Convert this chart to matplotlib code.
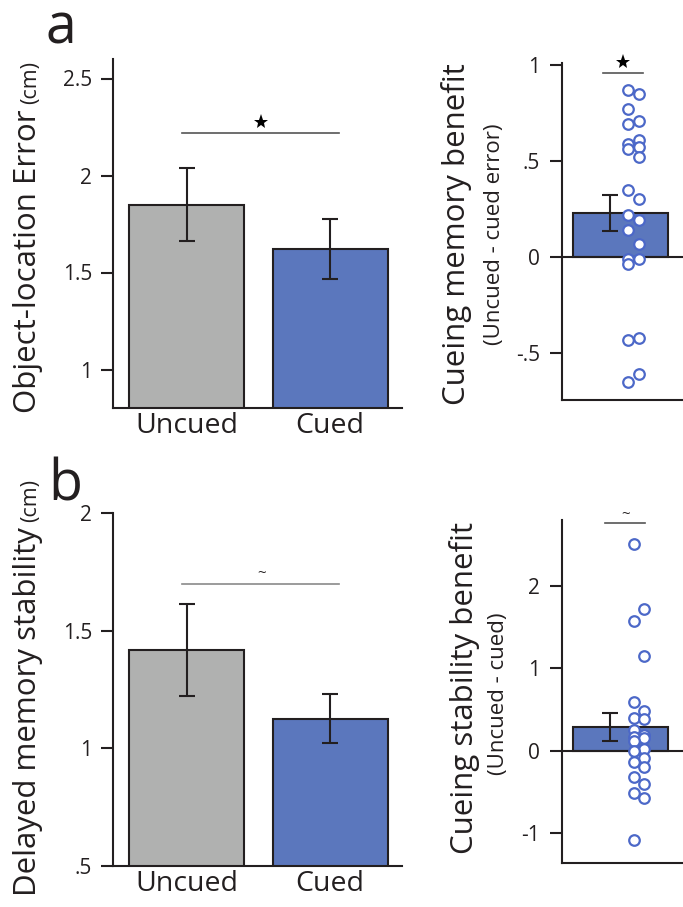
import matplotlib
matplotlib.use("Agg")
import matplotlib.pyplot as plt
import numpy as np

plt.rcParams['font.family'] = ['Open Sans', 'DejaVu Sans']

# ---------------- data ----------------
conditions = ["Uncued", "Cued"]
error_means = [1.85, 1.62]
error_sem = [0.19, 0.155]
stability_means = [1.42, 1.126]
stability_sem = [0.196, 0.105]

memory_benefit = [0.87, 0.85, 0.77, 0.71, 0.69, 0.61, 0.59, 0.575, 0.56, 0.52,
                  0.35, 0.30, 0.22, 0.19, 0.14, 0.067, -0.01, -0.01, -0.035,
                  -0.42, -0.435, -0.61, -0.65]
memory_benefit_mean = 0.23
memory_benefit_sem = 0.095

stability_benefit = [2.51, 1.72, 1.57, 1.15, 0.59, 0.49, 0.40, 0.39, 0.26, 0.19,
                     0.17, 0.16, 0.12, 0.02, 0.0, -0.08, -0.13, -0.19, -0.31,
                     -0.40, -0.51, -0.57, -1.08]
stability_benefit_mean = 0.29
stability_benefit_sem = 0.165

err_ticks = [1, 1.5, 2, 2.5]
err_ticklabels = ["1", "1.5", "2", "2.5"]
stab_ticks = [0.5, 1, 1.5, 2]
stab_ticklabels = [".5", "1", "1.5", "2"]
memb_ticks = [-0.5, 0, 0.5, 1]
memb_ticklabels = ["-.5", "0", ".5", "1"]
stabb_ticks = [-1, 0, 1, 2]
stabb_ticklabels = ["-1", "0", "1", "2"]

# ---------------- style ----------------
W, H = 683, 907
GREY = "#b0b1b0"
BLUE = "#5b77bd"
PT_BLUE = "#4c68c8"
INK = "#231f20"
LW = 1.5
MAIN_FS = 22.5
SUB_FS = 16
TICK_FS = 15

fig = plt.figure(figsize=(W / 100, H / 100), dpi=100)


def px_axes(l, t, r, b):
    return fig.add_axes([l / W, 1 - b / H, (r - l) / W, (b - t) / H])


def style(ax, pad):
    for s in ["top", "right"]:
        ax.spines[s].set_visible(False)
    for s in ["left", "bottom"]:
        ax.spines[s].set_linewidth(LW)
        ax.spines[s].set_color(INK)
    ax.tick_params(axis="y", length=9, width=LW, color=INK, labelsize=TICK_FS,
                   labelcolor=INK, pad=pad)
    ax.tick_params(axis="x", length=0, labelsize=20.5, labelcolor=INK, pad=3)


def bar_panel(ax, means, sems, ylim, ticks, ticklabels):
    x = np.arange(len(means))
    ax.bar(x, means, width=0.8, color=[GREY, BLUE], edgecolor=INK,
           linewidth=LW, zorder=2)
    ax.errorbar(x, means, yerr=sems, fmt="none", ecolor=INK, elinewidth=LW,
                capsize=5.5, capthick=LW, zorder=3)
    ax.set_xlim(-0.512, 1.50)
    ax.set_ylim(*ylim)
    ax.set_yticks(ticks)
    ax.set_yticklabels(ticklabels)
    ax.set_xticks(x)
    ax.set_xticklabels(conditions)
    style(ax, 6)


def benefit_panel(ax, vals, mean, sem, ylim, ticks, ticklabels, xc):
    ax.set_xlim(-0.49, 0.526)
    ax.set_ylim(*ylim)
    ax.bar([0], [mean], width=0.8, color=BLUE, edgecolor=INK, linewidth=LW,
           zorder=2)
    ax.errorbar([-0.09], [mean], yerr=[sem], fmt="none", ecolor=INK,
                elinewidth=LW, capsize=5.5, capthick=LW, zorder=3)
    ax.axhline(0, color=INK, lw=LW, zorder=2.5)
    order = np.argsort(vals)[::-1]
    xs = np.empty(len(vals))
    xs[order] = xc + np.where(np.arange(len(vals)) % 2 == 0, -0.045, 0.045)
    ax.plot(xs, vals, "o", ms=7.6, mfc="white", mec=PT_BLUE, mew=1.6,
            zorder=4, clip_on=False)
    ax.set_yticks(ticks)
    ax.set_yticklabels(ticklabels)
    ax.set_xticks([])
    style(ax, 7)


# panel a, left
ax1 = px_axes(113, 59.1, 402, 408.3)
bar_panel(ax1, error_means, error_sem, (0.8, 2.6), err_ticks, err_ticklabels)
ax1.plot([-0.03, 1.06], [2.22, 2.22], color="#555555", lw=1.2)
ax1.plot([0.52], [2.275], marker="*", ms=11, color="black", mew=0)

# panel b, left
ax2 = px_axes(113, 513.3, 402, 866)
bar_panel(ax2, stability_means, stability_sem, (0.5, 2.0), stab_ticks,
          stab_ticklabels)
ax2.plot([-0.03, 1.06], [1.70, 1.70], color="#8a8a8a", lw=1.2)
ax2.text(0.52, 1.71, "~", ha="center", va="bottom", fontsize=11, color=INK)

# panel a, right
ax3 = px_axes(562, 63, 683, 400)
benefit_panel(ax3, memory_benefit, memory_benefit_mean, memory_benefit_sem,
              (-0.745, 1.01), memb_ticks, memb_ticklabels, 0.111)
ax3.plot([-0.147, 0.19], [0.958, 0.958], color="#555555", lw=1.2, clip_on=False)
ax3.plot([0.02], [1.015], marker="*", ms=11, color="black", mew=0, clip_on=False)

# panel b, right
ax4 = px_axes(562, 520, 683, 863)
benefit_panel(ax4, stability_benefit, stability_benefit_mean,
              stability_benefit_sem, (-1.358, 2.8), stabb_ticks,
              stabb_ticklabels, 0.156)
ax4.plot([-0.13, 0.206], [2.76, 2.76], color="#555555", lw=1.2, clip_on=False)
ax4.text(0.04, 2.78, "~", ha="center", va="bottom", fontsize=11, color=INK,
         clip_on=False)

# panel letters
fig.text(45 / W, 1 - 43 / H, "a", fontsize=40, color=INK, va="baseline")
fig.text(48 / W, 1 - 500 / H, "b", fontsize=40, color=INK, va="baseline")


# y labels
def two_part_label(x_px, y_bottom_px, main, small, main_size, small_size):
    t1 = fig.text(x_px / W, 1 - y_bottom_px / H, main, rotation=90,
                  rotation_mode="anchor", ha="left", va="baseline",
                  fontsize=main_size, color=INK)
    fig.canvas.draw()
    bb = t1.get_window_extent()
    fig.text(x_px / W, (bb.y1 + 5) / H, small, rotation=90,
             rotation_mode="anchor", ha="left", va="baseline",
             fontsize=small_size, color=INK)


two_part_label(36, 413, "Object-location Error", "(cm)", MAIN_FS, 15.5)
two_part_label(36, 896, "Delayed memory stability", "(cm)", MAIN_FS, 15.5)

fig.text(465 / W, 1 - 234 / H, "Cueing memory benefit", rotation=90,
         rotation_mode="anchor", ha="center", va="baseline", fontsize=MAIN_FS,
         color=INK)
fig.text(500 / W, 1 - 234 / H, "(Uncued - cued error)", rotation=90,
         rotation_mode="anchor", ha="center", va="baseline", fontsize=SUB_FS,
         color=INK)
fig.text(473 / W, 1 - 688 / H, "Cueing stability benefit", rotation=90,
         rotation_mode="anchor", ha="center", va="baseline", fontsize=MAIN_FS,
         color=INK)
fig.text(504 / W, 1 - 694 / H, "(Uncued - cued)", rotation=90,
         rotation_mode="anchor", ha="center", va="baseline", fontsize=SUB_FS,
         color=INK)

fig.savefig("out.png", dpi=100)
